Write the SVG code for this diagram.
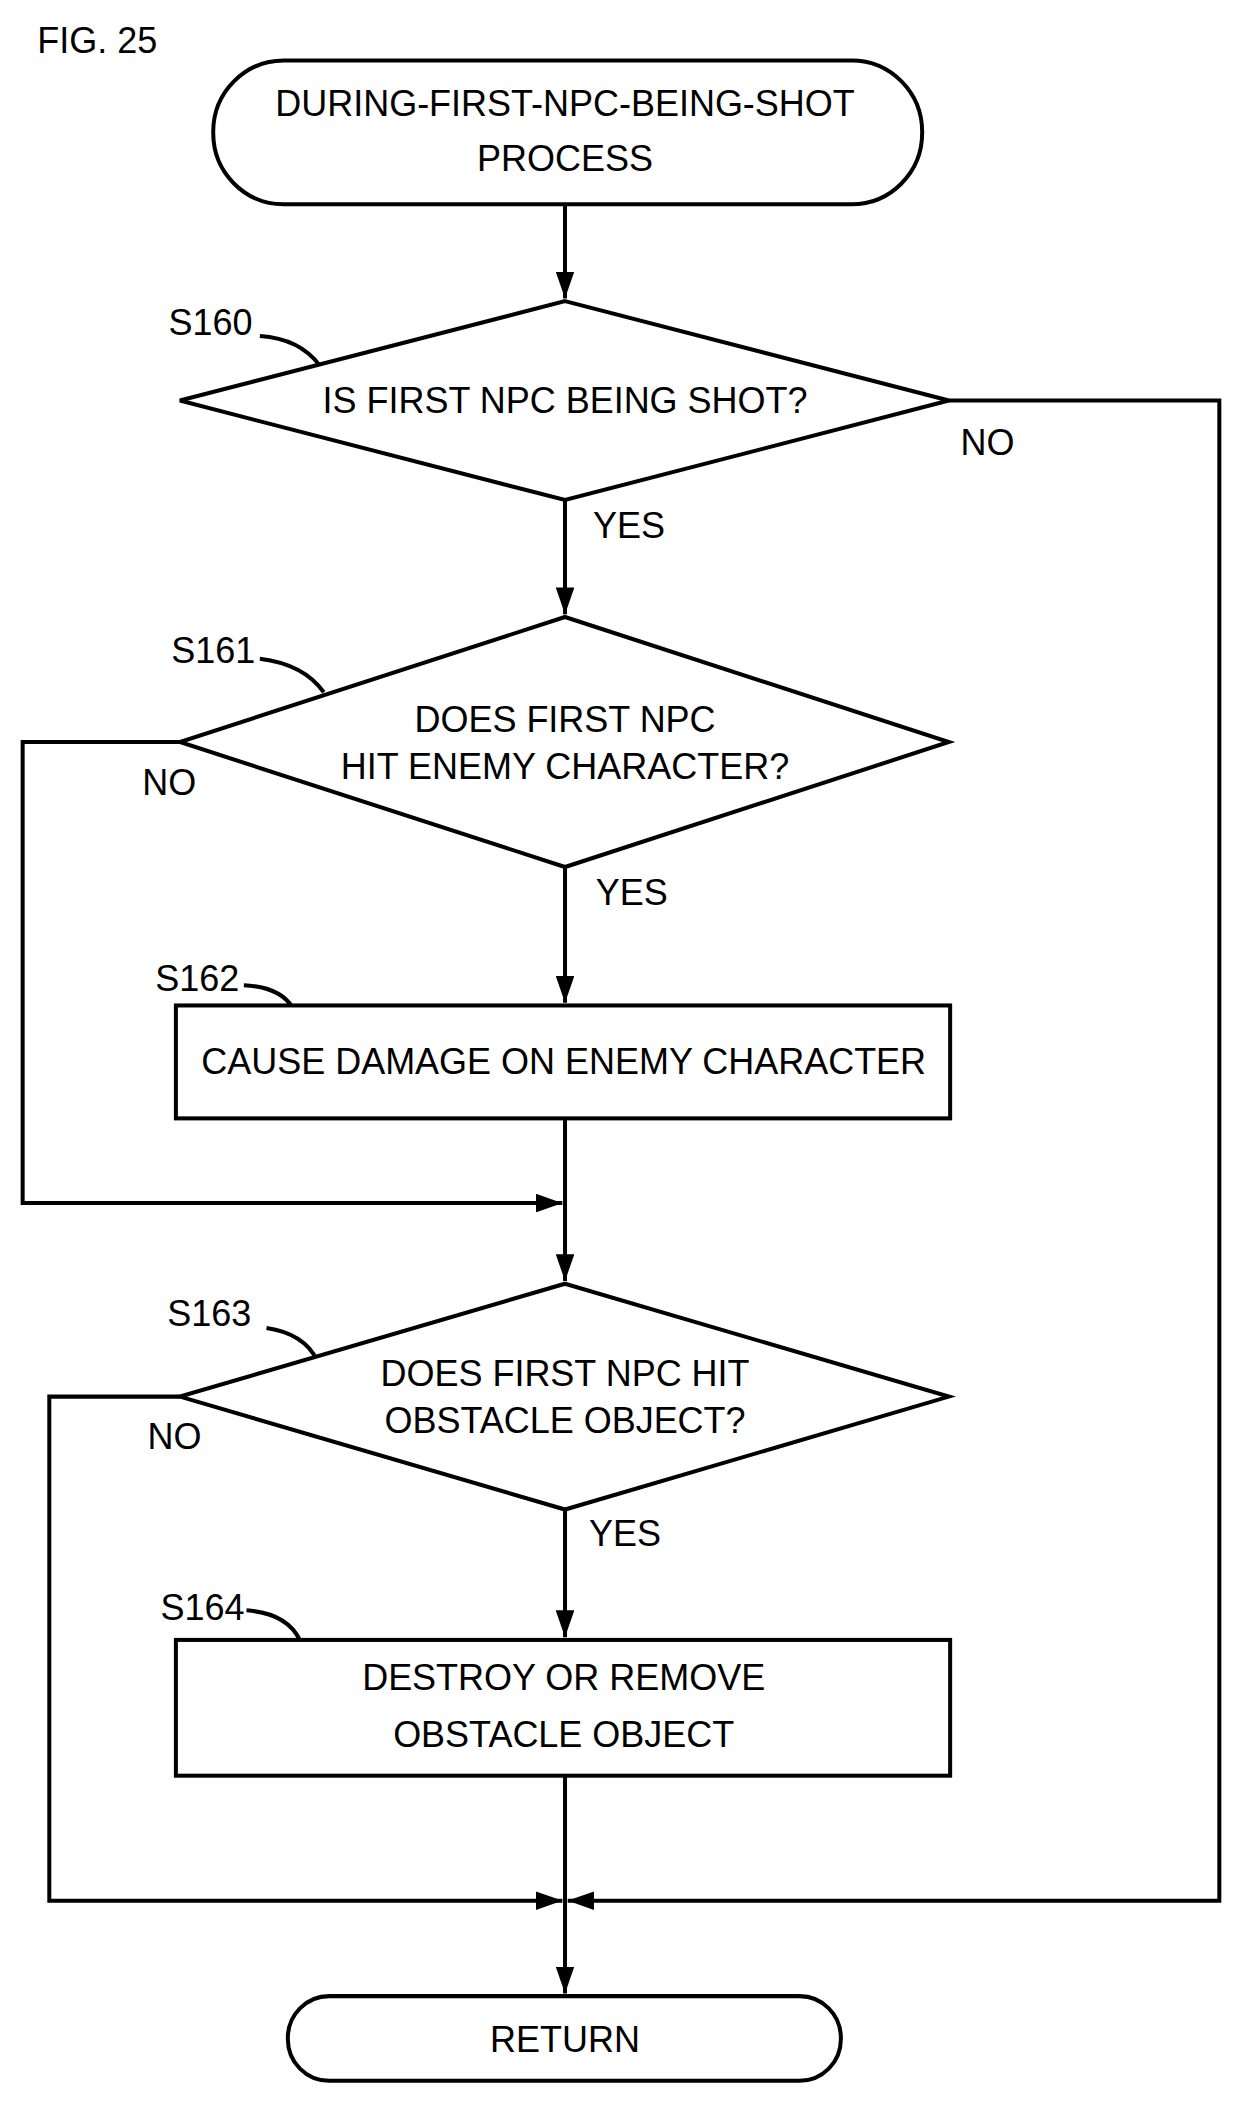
<svg xmlns="http://www.w3.org/2000/svg" width="1250" height="2101" viewBox="0 0 1250 2101">
<style>
.s{fill:none;stroke:#000;stroke-width:3}
.n{fill:#fff;stroke:#000;stroke-width:3}
text{font-family:"Liberation Sans",Arial,sans-serif;font-size:27px;fill:#000;text-anchor:middle;dominant-baseline:central}
.l{text-anchor:start}
</style>
<defs><marker id="a" viewBox="0 0 20 14" refX="20" refY="7" markerWidth="20" markerHeight="14" markerUnits="userSpaceOnUse" orient="auto"><path d="M0,0L20,7L0,14z" fill="#000"/></marker></defs>
<rect width="1250" height="2101" fill="#fff"/>
<g transform="scale(1.3326,1.3442)">
<text class="l" x="28" y="30" font-size="28">FIG. 25</text>
<g id="connectors">
<path class="s" d="M424,152V222" marker-end="url(#a)"/>
<path class="s" d="M424,372V457" marker-end="url(#a)"/>
<path class="s" d="M424,645V746" marker-end="url(#a)"/>
<path class="s" d="M424,832V953" marker-end="url(#a)"/>
<path class="s" d="M424,1123V1218" marker-end="url(#a)"/>
<path class="s" d="M424,1321V1483" marker-end="url(#a)"/>
<path class="s" d="M712,298H915V1414H426" marker-end="url(#a)"/>
<path class="s" d="M135,552H17V895H422" marker-end="url(#a)"/>
<path class="s" d="M135,1039H37V1414H422" marker-end="url(#a)"/>
<text x="741" y="329">NO</text><text x="472" y="391">YES</text>
<text x="127" y="582">NO</text><text x="474" y="664">YES</text>
<text x="131" y="1069">NO</text><text x="469" y="1141">YES</text>
<path class="s" d="M195,250Q225,252 240,272"/>
<path class="s" d="M195,490Q228,494 243,515"/>
<path class="s" d="M183,733Q210,734 220,750"/>
<path class="s" d="M200,988Q228,992 238,1012"/>
<path class="s" d="M185,1198Q215,1200 225,1220"/>
</g>
<g id="start"><rect class="n" x="160" y="45" width="532" height="107" rx="53"/><text x="424" y="77">DURING-FIRST-NPC-BEING-SHOT</text><text x="424" y="118">PROCESS</text></g>
<g id="S160"><path class="n" d="M424,224L712,298L424,372L135,298z"/><text x="424" y="298">IS FIRST NPC BEING SHOT?</text><text x="158" y="240">S160</text></g>
<g id="S161"><path class="n" d="M424,459L712,552L424,645L135,552z"/><text x="424" y="535">DOES FIRST NPC</text><text x="424" y="570">HIT ENEMY CHARACTER?</text><text x="160" y="484">S161</text></g>
<g id="S162"><rect class="n" x="132" y="748" width="581" height="84"/><text x="423" y="790">CAUSE DAMAGE ON ENEMY CHARACTER</text><text x="148" y="728">S162</text></g>
<g id="S163"><path class="n" d="M424,955L712,1039L424,1123L135,1039z"/><text x="424" y="1022">DOES FIRST NPC HIT</text><text x="424" y="1057">OBSTACLE OBJECT?</text><text x="157" y="977">S163</text></g>
<g id="S164"><rect class="n" x="132" y="1220" width="581" height="101"/><text x="423" y="1248">DESTROY OR REMOVE</text><text x="423" y="1290">OBSTACLE OBJECT</text><text x="152" y="1196">S164</text></g>
<g id="return"><rect class="n" x="216" y="1485" width="415" height="63" rx="31"/><text x="424" y="1517">RETURN</text></g>
</g>
</svg>
